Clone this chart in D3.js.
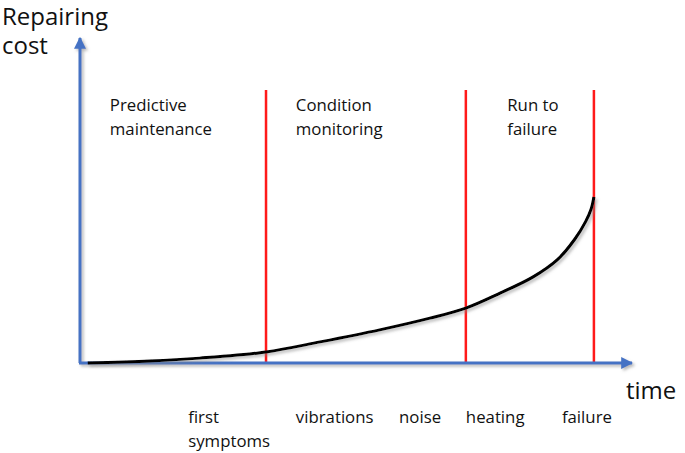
<!DOCTYPE html>
<html>
<head>
<meta charset="utf-8">
<script src="https://cdn.jsdelivr.net/npm/d3@7"></script>
<style>
  body { margin: 0; background: #fff; }
  text { font-family: "Open Sans", Lato, sans-serif; fill: #111; }
</style>
</head>
<body>
<div id="chart"></div>
<script>
// repair cost curve (time 0-100, cost 0-100)
var curveTime = [1.4, 12.7, 21.7, 33.7, 43.5, 54.3, 63.4, 69.9, 76.1, 82.1, 86.5, 89.6, 91.6, 92.6, 93.1];
var curveCost = [0, 0.6, 1.5, 3.4, 6.5, 10.2, 13.8, 16.9, 21.5, 26.5, 31.8, 38.0, 43.5, 47.4, 51.1];

// phase boundaries (red lines)
var boundaries = [33.7, 69.9, 93.1];

// phase names, placed at top
var phaseNames = [["Predictive", "maintenance"], ["Condition", "monitoring"], ["Run to", "failure"]];
var phaseX = [5.4, 39.1, 77.4];

// symptoms under the axis
var symptoms = [["first", "symptoms"], ["vibrations"], ["noise"], ["heating"], ["failure"]];
var symptomX = [19.6, 39.1, 57.8, 69.9, 87.3];

var width = 685, height = 453;

var svg = d3.select("#chart").append("svg")
  .attr("width", width)
  .attr("height", height);

var x = d3.scaleLinear().domain([0, 100]).range([80, 632]);
var y = d3.scaleLinear().domain([0, 100]).range([363, 38]);

// soft shadow like the original office drawing
var defs = svg.append("defs");
var shadow = defs.append("filter").attr("id", "shadow")
  .attr("x", "-10%").attr("y", "-10%").attr("width", "130%").attr("height", "130%");
shadow.append("feDropShadow")
  .attr("dx", 2).attr("dy", 2).attr("stdDeviation", 1.5)
  .attr("flood-color", "#888").attr("flood-opacity", 0.6);

defs.append("marker")
  .attr("id", "arrow")
  .attr("viewBox", "0 0 10 10")
  .attr("refX", 9).attr("refY", 5)
  .attr("markerWidth", 4).attr("markerHeight", 4)
  .attr("markerUnits", "strokeWidth")
  .attr("orient", "auto")
  .append("path")
  .attr("d", "M0,0 L10,5 L0,10 z")
  .attr("fill", "#4472c4");

// red phase lines
svg.selectAll(".boundary").data(boundaries).enter().append("line")
  .attr("class", "boundary")
  .attr("x1", function(d) { return x(d); })
  .attr("x2", function(d) { return x(d); })
  .attr("y1", y(84))
  .attr("y2", y(0))
  .attr("stroke", "#ff1a1a")
  .attr("stroke-width", 2.5);

// axes
var axes = svg.append("g").style("filter", "url(#shadow)");
axes.append("line")
  .attr("x1", x(0)).attr("y1", y(0))
  .attr("x2", x(0)).attr("y2", y(100))
  .attr("stroke", "#4472c4").attr("stroke-width", 3)
  .attr("marker-end", "url(#arrow)");
axes.append("line")
  .attr("x1", x(0) - 1).attr("y1", y(0))
  .attr("x2", x(100)).attr("y2", y(0))
  .attr("stroke", "#4472c4").attr("stroke-width", 3)
  .attr("marker-end", "url(#arrow)");

// the cost curve
var pts = curveTime.map(function(t, i) { return [t, curveCost[i]]; });
var line = d3.line()
  .x(function(d) { return x(d[0]); })
  .y(function(d) { return y(d[1]); })
  .curve(d3.curveCatmullRom.alpha(0.5));

svg.append("path")
  .datum(pts)
  .attr("d", line)
  .attr("fill", "none")
  .attr("stroke", "#000")
  .attr("stroke-width", 3)
  .style("filter", "url(#shadow)");

// axis titles
var yTitle = svg.append("text").attr("font-size", 24);
yTitle.append("tspan").attr("x", 2).attr("y", 25).text("Repairing");
yTitle.append("tspan").attr("x", 2).attr("y", 54).text("cost");
svg.append("text").attr("x", 626).attr("y", 399).attr("font-size", 24).text("time");

// phase labels
phaseNames.forEach(function(lines, i) {
  var t = svg.append("text").attr("font-size", 16.8);
  lines.forEach(function(s, j) {
    t.append("tspan").attr("x", x(phaseX[i])).attr("y", 111 + j * 24).text(s);
  });
});

// symptom labels
symptoms.forEach(function(lines, i) {
  var t = svg.append("text").attr("font-size", 16.8);
  lines.forEach(function(s, j) {
    t.append("tspan").attr("x", x(symptomX[i])).attr("y", 423 + j * 24).text(s);
  });
});
</script>
</body>
</html>
